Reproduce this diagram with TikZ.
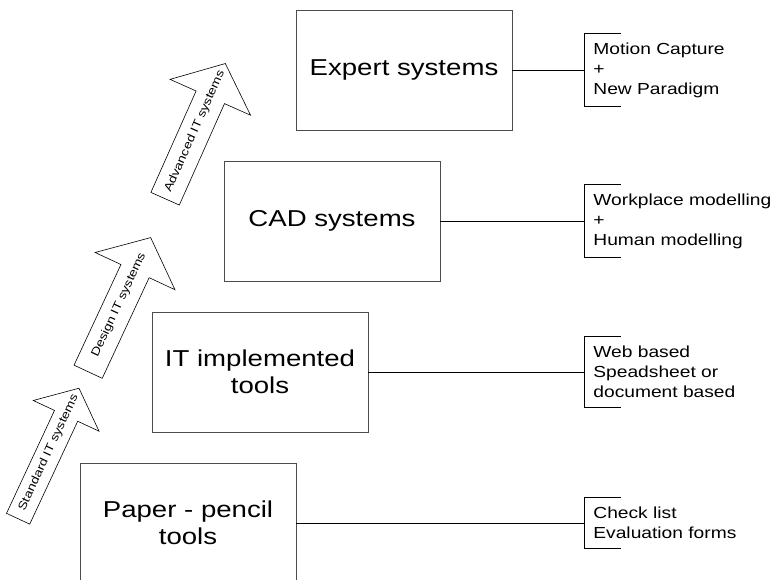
\documentclass[tikz,border=0pt]{standalone}
\usepackage{fontspec}
\setmainfont{Liberation Sans}[FakeStretch=1.2]
\usetikzlibrary{shapes,arrows,positioning}

\newcommand{\notebracket}[1]{%
  \draw ([xshift=37pt]#1.north west) -- (#1.north west) -- (#1.south west) -- ([xshift=37pt]#1.south west);}

\begin{document}
\begin{tikzpicture}[x=1pt, y=-1pt, line width=0.8pt]
    % Stili
    \tikzstyle{level}=[rectangle, draw=black!70, minimum width=216pt, minimum height=120pt, align=center, font=\fontsize{23}{27}\selectfont]
    \tikzstyle{note}=[anchor=west, align=left, inner xsep=9pt, inner ysep=9pt, font=\fontsize{16}{20}\selectfont]
    \tikzstyle{climb}=[single arrow, draw=black, line width=0.6pt, anchor=tail, single arrow tip angle=100, inner xsep=2pt, text height=8pt, text depth=2.5pt, font=\fontsize{11.5}{13}\selectfont]
    \tikzstyle{link}=[draw=black]

    \clip (0,0) rectangle (778,579);

    % Livelli
    \node (expert) [level] at (404,70) {Expert systems};
    \node (cad) [level] at (332,221) {CAD systems};
    \node (ittools) [level] at (260,372) {IT implemented\\tools};
    \node (paper) [level] at (188,523) {Paper - pencil\\tools};

    % Frecce
    \node (standard) [climb, rotate=65, minimum height=144pt, inner ysep=7.25pt, single arrow head extend=23.5pt] at (18,519) {Standard IT systems\hspace*{-12pt}};
    \node (design) [climb, rotate=65, minimum height=148pt, inner ysep=10pt, single arrow head extend=28.5pt] at (88,372) {Design IT systems\hspace*{-12pt}};
    \node (advanced) [climb, rotate=66, minimum height=148pt, inner ysep=10pt, single arrow head extend=28.5pt] at (165,199) {Advanced IT systems\hspace*{-12pt}};

    % Esempi
    \node (motion) [note] at (584,70) {Motion Capture\\+\\New Paradigm};
    \node (workplace) [note] at (584,221) {Workplace modelling\\+\\Human modelling};
    \node (web) [note] at (584,372) {Web based\\Speadsheet or\\document based};
    \node (check) [note] at (584,523) {Check list\\Evaluation forms};

    % Collegamenti
    \draw [link] (expert) -- (motion);
    \draw [link] (cad) -- (workplace);
    \draw [link] (ittools) -- (web);
    \draw [link] (paper) -- (check);
    \notebracket{motion}
    \notebracket{workplace}
    \notebracket{web}
    \notebracket{check}

\end{tikzpicture}
\end{document}
